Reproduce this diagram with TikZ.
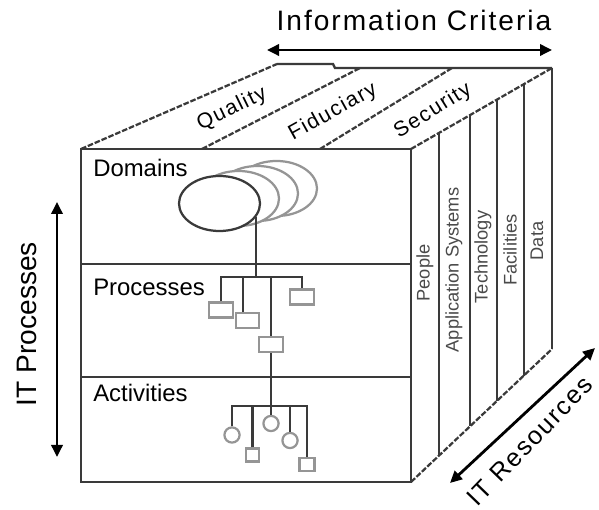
\documentclass[tikz,border=0pt]{standalone}
\usepackage{fontspec}
\setmainfont{Liberation Sans}
\newfontfamily\widesans[LetterSpace=7]{Liberation Sans}
\usetikzlibrary{arrows.meta, calc, shapes.geometric}
\definecolor{edgegray}{HTML}{3A3A3A}
\definecolor{boxgray}{HTML}{959595}
\definecolor{lblgray}{HTML}{4A4A4A}

\begin{document}
\begin{tikzpicture}[
  x=0.025cm, y=-0.025cm,
  >={Triangle[length=3mm, width=2.8mm]},
  edge/.style={edgegray, line width=1.6pt},
  slant/.style={edgegray, line width=1.6pt, dash pattern=on 4pt off 1.3pt},
  tree/.style={edgegray, line width=1.6pt},
  dimarrow/.style={<->, black, line width=2pt},
  big/.style={font=\fontsize{20}{24}\selectfont, inner sep=0pt},
  level/.style={font=\fontsize{17}{20}\selectfont, anchor=west, inner sep=0pt},
  crit/.style={font=\widesans\fontsize{15}{18}\selectfont, inner sep=0pt},
  res/.style={font=\fontsize{13}{15}\selectfont, rotate=90, text=lblgray, inner sep=0pt},
  oval/.style={ellipse, draw=#1, line width=1.6pt, fill=white,
    minimum width=2.025cm, minimum height=1.375cm, inner sep=0pt},
  pbox/.style={draw=boxgray, line width=1.6pt, fill=white,
    minimum width=0.6cm, minimum height=0.38cm, inner sep=0pt},
  acirc/.style={circle, draw=boxgray, line width=1.6pt, fill=white,
    minimum size=0.38cm, inner sep=0pt},
  asq/.style={draw=boxgray, line width=1.6pt, fill=white,
    minimum width=0.34cm, minimum height=0.32cm, inner sep=0pt},
]
\useasboundingbox (0,0) rectangle (599,510);

% === Cube corners ===
\coordinate (ftl) at (81,149);
\coordinate (ftr) at (411,149);
\coordinate (fbl) at (81,482);
\coordinate (fbr) at (411,482);
\coordinate (btl) at (277,64);
\coordinate (btr) at (552,68);
\coordinate (bbr) at (552,349);

% Front face with the three levels
\draw[edge] (ftl) rectangle (fbr);
\draw[edge] (81,264) -- (411,264);
\draw[edge] (81,377) -- (411,377);

% Top face
\draw[slant] (ftl) -- (btl);
\draw[edge] (btl) -- (333,64) -- (335,68) -- (btr);
\draw[slant] (202,149) -- (360,68);
\draw[slant] (320,149) -- (452,68);
\draw[slant] (ftr) -- (btr);

% Right face
\draw[edge] (btr) -- (bbr);
\draw[slant] (fbr) -- (bbr);
\foreach \f in {0.2,0.42,0.61,0.8}
  \draw[edge] ($(ftr)!\f!(btr)$) -- ($(fbr)!\f!(bbr)$);

% === Labels on the cube ===
\node[level] (domains) at (93,168) {Domains};
\node[level] (processes) at (93,287) {Processes};
\node[level] (activities) at (93,393) {Activities};

\node[crit, rotate=26] (quality) at (232,109) {Quality};
\node[crit, rotate=29] (fiduciary) at (333,112) {Fiduciary};
\node[crit, rotate=32] (security) at (433,111) {Security};

\node[res] (people) at (425,273) {People};
\node[res] (appsys) at (454,270) {Application Systems};
\node[res] (technology) at (483,257) {Technology};
\node[res] (facilities) at (510,250) {Facilities};
\node[res] (data) at (537,241) {Data};

% === Domain ovals ===
\foreach \k in {3,2,1}
  \node[oval=boxgray] (dom\k) at ({219.5+19*\k},{203.5-5*\k}) {};
\node[oval=edgegray] (dom) at (219.5,203.5) {};

% === Processes ===
\coordinate (pj) at (256,277);
\node[pbox] (pa) at (221,310) {};
\node[pbox, minimum width=0.56cm, minimum height=0.36cm] (pb) at (247.5,320.5) {};
\node[pbox] (pc) at (271,344.5) {};
\node[pbox] (pd) at (302,297) {};

\draw[tree] (pj |- dom.-20) -- (pj);
\draw[tree] (pa.north) -- (pa.north |- pj) -- (pd.north |- pj) -- (pd.north);
\draw[tree] ([xshift=-0.11cm]pb.north) -- ([xshift=-0.11cm]pb.north |- pj);
\draw[tree] (pc.north) -- (pc.north |- pj);

% === Activities ===
\coordinate (aj) at (271,406);
\node[acirc] (a1) at (232,435) {};
\node[asq] (a2) at (252.5,455) {};
\node[acirc] (a3) at (271,423.5) {};
\node[acirc] (a4) at (290,440.5) {};
\node[asq, minimum width=0.38cm] (a5) at (307,464.5) {};

\draw[tree] (pc) -- (a3);
\draw[tree] (a1.north) -- (a1.north |- aj) -- (a5.north |- aj) -- (a5.north);
\draw[tree] (a2.north) -- (a2.north |- aj);
\draw[tree] (a4.north) -- (a4.north |- aj);

% === Dimensions ===
\coordinate (icL) at (267,50);
\coordinate (icR) at (552,50);
\coordinate (ipT) at (57,202);
\coordinate (ipB) at (57,457);
\coordinate (irA) at (450,483);
\coordinate (irB) at (595,348);

\draw[dimarrow] (icL) -- (icR);
\draw[dimarrow] (ipT) -- (ipB);
\draw[dimarrow] (irA) -- (irB);

\node[big, font=\widesans\fontsize{20}{24}\selectfont] (infocrit) at (414,20) {Information Criteria};
\node[big, rotate=90] (itproc) at (27,324) {IT Processes};
\node[big, font=\widesans\fontsize{18}{22}\selectfont, rotate=46] (itres) at (530,441) {IT Resources};

\end{tikzpicture}
\end{document}
